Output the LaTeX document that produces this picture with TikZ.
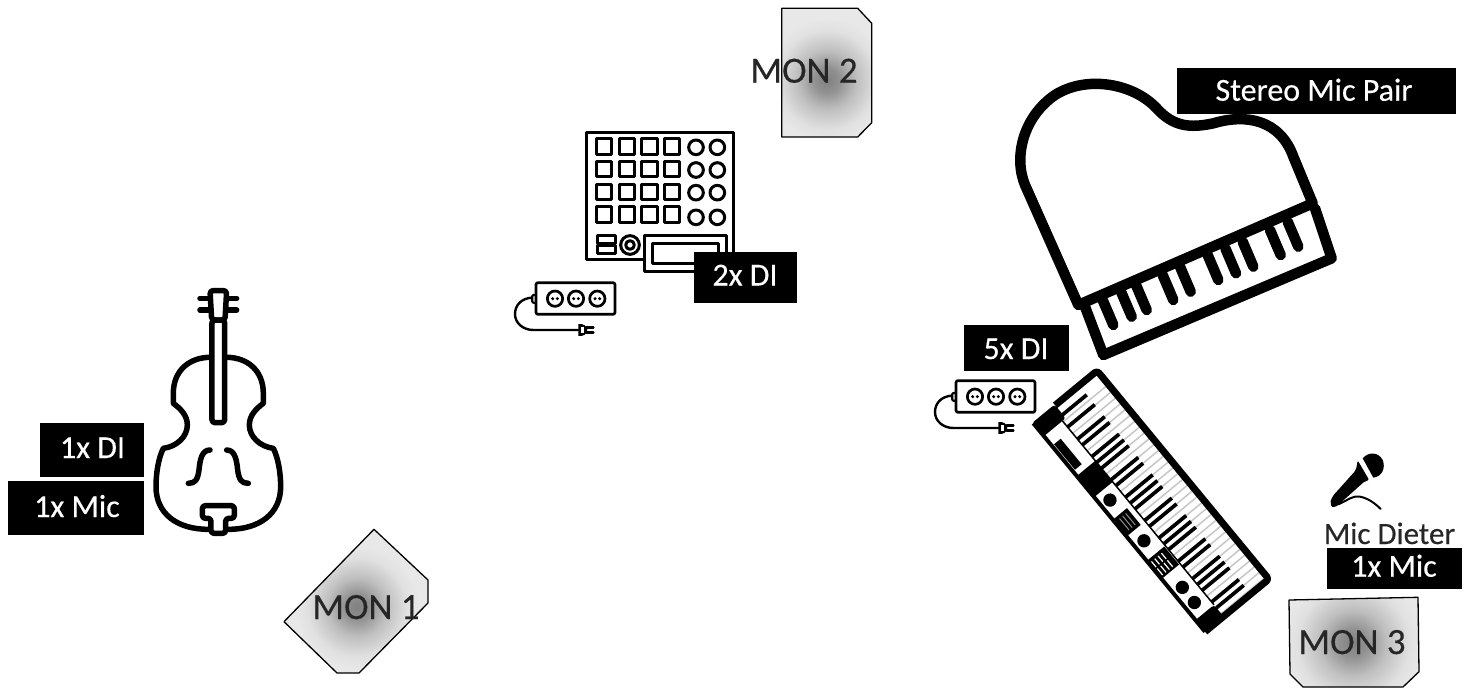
\documentclass[tikz,border=0pt]{standalone}
\usepackage{fontspec}
\setmainfont[FakeBold=0.35]{Carlito}
\pgfdeclareradialshading{monshade}{\pgfpointorigin}{color(0bp)=(black!50); color(5bp)=(black!43); color(12bp)=(black!25); color(20bp)=(black!12); color(25bp)=(black!9); color(50bp)=(black!9)}
\tikzset{
  lbl/.style={text=white,anchor=base,inner sep=0pt,font=\fontsize{32}{38}\selectfont},
  montext/.style={text=black!85,anchor=base,inner sep=0pt,font=\fontsize{37}{44}\selectfont},
  icon/.style={draw=black,line join=round,line cap=round},
  strip/.pic={
    \begin{scope}[scale=0.33333,icon]
      \draw[rounded corners=2pt,line width=2.7pt] (108,848) rectangle (345,943);
      \foreach \c in {165,228,292}{
        \draw[line width=2.7pt] (\c,896) circle (23);
        \fill (\c-7,896) circle (5);
        \fill (\c+7,896) circle (5);
      }
      \draw[rounded corners=1pt,line width=2.2pt] (108,885) -- (97,885) -- (97,908) -- (108,908);
      \draw[line width=2.4pt] (95,893) .. controls (65,895) and (45,915) .. (45,942) .. controls (45,970) and (70,990) .. (100,990) -- (235,990);
      \fill (235,972) .. controls (250,970) and (262,978) .. (262,990) .. controls (262,1002) and (250,1010) .. (235,1008) -- cycle;
      \fill[white] (243,982) rectangle (252,998);
      \draw[line width=2.7pt] (260,982) -- (280,982) (260,998) -- (280,998);
    \end{scope}
  }
}
\newcommand{\monitor}[4]{% polygon, cx, cy, radius
  \begin{scope}
    \clip #1;
    \fill[black!9] #1;
    \shade[shading=monshade] (#2,#3) circle (#4);
  \end{scope}
  \draw[black,line width=1.3pt,line join=round] #1;
}
\begin{document}
\begin{tikzpicture}[x=1pt,y=-1pt]
\useasboundingbox (0,0) rectangle (1465,688);
\begin{scope}
\clip (0,0) rectangle (1465,688);

% monitors
\monitor{(374,529.3)--(428,580)--(428,603)--(359,673)--(337,673)--(284,621.7)--cycle}{357}{607}{62}
\monitor{(781.7,8.3)--(857.7,8.3)--(871.7,23.3)--(871.7,122.7)--(857.7,137)--(781.7,137)--cycle}{827}{80}{62}
\monitor{(1289,600)--(1418,597.3)--(1419,671.7)--(1403,687)--(1303,687)--(1290,674)--cycle}{1353}{643}{70}

% violin
\begin{scope}[shift={(0,270)},scale=0.33333]
 \foreach \s in {1,-1}{
  \begin{scope}[shift={(655,0)},xscale=\s,icon,line width=5.5pt]
   \draw (25,262) .. controls (85,262) and (135,300) .. (135,370) -- (135,400) .. controls (115,415) and (93,435) .. (93,465) .. controls (93,500) and (125,530) .. (165,535) .. controls (180,565) and (187,610) .. (187,650) .. controls (187,730) and (125,778) .. (30,778);
   \draw (25,540) .. controls (50,540) and (55,570) .. (58,600) .. controls (62,630) and (70,640) .. (90,640);
   \draw (28,85) -- (55,85) (28,120) -- (55,120);
  \end{scope}}
 \begin{scope}[shift={(655,0)},icon,line width=5.5pt]
   \draw[rounded corners=3pt,fill=white] (-20,150) -- (-25,62) -- (25,62) -- (20,150) -- cycle;
   \draw[rounded corners=3pt,fill=white] (-19,458) rectangle (19,150);
   \draw[rounded corners=3pt,fill=white] (-48,707) -- (48,707) -- (48,745) -- (22,745) -- (22,790) -- (-22,790) -- (-22,745) -- (-48,745) -- cycle;
 \end{scope}
\end{scope}

% drum pad
\begin{scope}[shift={(500,0)},scale=0.33333,icon,line width=3pt]
 \draw (260,397) rectangle (700,778);
 \foreach \x in {288,357,425,493}\foreach \y in {417,485,553,621}{\draw (\x,\y) rectangle +(46,46);}
 \foreach \x in {588,652}\foreach \y in {442,510,578,652}{\draw (\x,\y) circle (22);}
 \draw (292,707) rectangle (345,730) (292,737) rectangle (345,760);
 \draw (390,735) circle (28) (390,735) circle (13);
 \draw[fill=white] (432,707) rectangle (678,815);
 \draw (458,730) rectangle (655,790);
\end{scope}

% power strips
\pic at (500,0) {strip};
\pic at (920,98) {strip};

% piano
\begin{scope}[shift={(1000,60)},scale=0.33333,icon,line width=10.5pt]
 \draw (235,735) -- (75,375) .. controls (40,290) and (70,170) .. (165,105) .. controls (260,45) and (400,70) .. (470,145) .. controls (520,200) and (570,205) .. (640,190) .. controls (740,160) and (840,180) .. (880,290) -- (938,430) -- cycle;
 \draw (255,740) -- (310,885) -- (995,595) -- (945,445);
 \foreach \a/\b in {340/795,395/770,440/750,520/720,572/695,655/660,708/640,760/620,842/585,895/560}{
   \draw (\a,\b) -- (\a-32,\b-75);
 }
\end{scope}

% synth
\begin{scope}[shift={(1033.3,423.3)}]
\begin{scope}[x=1pt,y=1pt,cm={0.212,-0.2573,0.2573,0.212,(0,0)},line join=round]
 \fill[white] (0,0) rectangle (810,248);
 \foreach \n in {-3,...,30}{\draw[black!22,line width=1.5pt] (121+\n*22.6,72) -- (121+\n*22.6,237);}
 \foreach \u in {36,74}{\draw[black,line width=3.7pt] (\u,72) -- (\u,178);}
 \foreach \o in {0,...,4}{\foreach \k in {0,1,3,4,5}{
   \ifnum\numexpr\o*10+\k\relax<43
   \draw[black,line width=3.7pt] (121+\o*158.2+\k*22.6,72) -- (121+\o*158.2+\k*22.6,178);
   \fi}}
 \fill[black,rounded corners=3pt] (-3,-3) rectangle (50,85);
 \fill[black] (205,0) rectangle (287,72);
 \fill[black,rounded corners=3pt] (765,-3) rectangle (813,72);
 \fill[black] (88,8) rectangle (187,34);
 \fill[black] (375,5) rectangle (440,55);
 \draw[black!45,line width=1pt] (385,18) -- (430,18) (385,30) -- (430,30) (385,42) -- (430,42);
 \fill[black] (324,31) circle (20) (483,32) circle (20) (664,32) circle (20) (722,31) circle (20);
 \fill[black] (535,0) rectangle (605,68);
 \foreach \v in {10,23,36,49}{\draw[white,line width=1.2pt] (545,\v) -- (598,\v);}
 \draw[black,line width=1.6pt] (570,0) -- (570,65);
 \draw[black,line width=1.5pt] (50,72) -- (765,72);
 \draw[black,line width=4pt] (0,0) -- (810,0);
 \draw[black,line width=7pt,rounded corners=3pt] (0,85) -- (0,248) -- (810,248) -- (810,0);
\end{scope}
\end{scope}

% microphone
\begin{scope}[shift={(1320,445)},scale=0.33333]
 \fill[black] (128,40) .. controls (145,20) and (175,20) .. (188,45) .. controls (198,70) and (185,95) .. (160,98) -- cycle;
 \fill[black,rounded corners=2pt] (113,46) -- (148,106) -- (135,108) -- (60,175) .. controls (50,185) and (35,190) .. (32,175) .. controls (32,165) and (40,150) .. (50,140) -- (108,75) -- cycle;
 \draw[black,line width=2pt,line cap=round] (55,178) .. controls (85,165) and (100,150) .. (120,155) .. controls (145,160) and (165,175) .. (182,192);
\end{scope}

% labels
\fill (40,422.7) rectangle (144,476.7);
\fill (8,481.3) rectangle (144,535.3);
\fill (694.3,251.7) rectangle (796.7,302.7);
\fill (1176.7,68.3) rectangle (1455.7,114.3);
\fill (964,325) rectangle (1068.7,371);
\fill (1326.7,548.3) rectangle (1461.7,589.3);
\node[lbl] (di1) at (92.5,458) {1x DI};
\node[lbl] (mic1) at (77,517) {1x Mic};
\node[lbl] (di2) at (745,285.5) {2x DI};
\node[lbl] (stereo) at (1314,100.7) {Stereo Mic Pair};
\node[lbl] (di5) at (1016,359) {5x DI};
\node[lbl] (mic2) at (1394,576.7) {1x Mic};
\node[montext,font=\fontsize{31}{38}\selectfont] (dieter) at (1389.5,544) {Mic Dieter};
\node[montext] (mon1) at (366,619) {MON 1};
\node[montext] (mon2) at (804,82.7) {MON 2};
\node[montext] (mon3) at (1352,654) {MON 3};
\end{scope}
\end{tikzpicture}
\end{document}
